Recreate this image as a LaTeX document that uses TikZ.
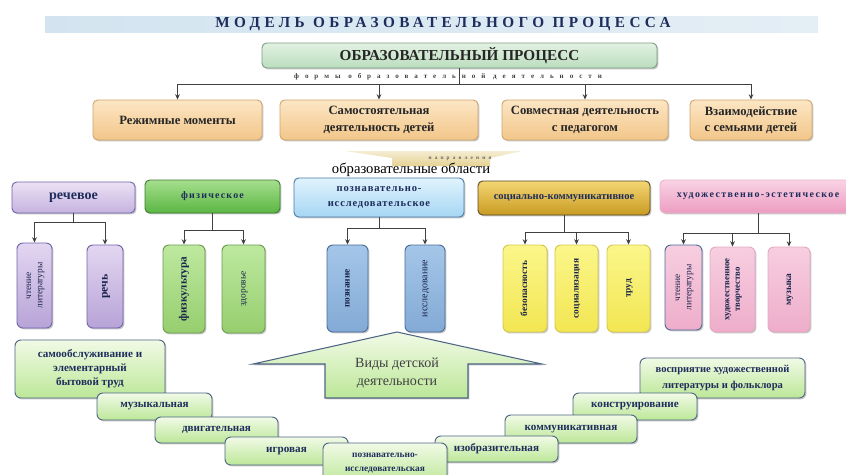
\documentclass[tikz,border=0pt]{standalone}
\usepackage{fontspec}
\setmainfont{Liberation Serif}
\usetikzlibrary{arrows.meta,shadows}
\definecolor{navy}{HTML}{1F2D5C}
\definecolor{txtdark}{HTML}{262626}
\definecolor{conn}{HTML}{404040}
\definecolor{bandL}{HTML}{D3E4F0}
\definecolor{bandR}{HTML}{E4EEF5}
\definecolor{mainT}{HTML}{E2F2E2}
\definecolor{mainB}{HTML}{BBDDBE}
\definecolor{mainD}{HTML}{7E9C84}
\definecolor{formT}{HTML}{FCE6C4}
\definecolor{formBt}{HTML}{F2C689}
\definecolor{formD}{HTML}{CFA470}
\definecolor{purT}{HTML}{EBE1F4}
\definecolor{purB}{HTML}{C6B2DF}
\definecolor{purD}{HTML}{6E65A8}
\definecolor{grnT}{HTML}{A6DF8E}
\definecolor{grnB}{HTML}{5AB642}
\definecolor{grnD}{HTML}{3F7A32}
\definecolor{bluT}{HTML}{E0F3FD}
\definecolor{bluB}{HTML}{A6D6F3}
\definecolor{bluD}{HTML}{4A78A8}
\definecolor{golT}{HTML}{F3D673}
\definecolor{golB}{HTML}{C99B22}
\definecolor{golD}{HTML}{5A4A22}
\definecolor{pnkT}{HTML}{FAD3E4}
\definecolor{pnkB}{HTML}{EC9CC1}
\definecolor{pnkD}{HTML}{E6B4CA}
\definecolor{cpurT}{HTML}{E3D6F1}
\definecolor{cpurB}{HTML}{B7A3D7}
\definecolor{cgrnT}{HTML}{BDE99F}
\definecolor{cgrnB}{HTML}{96CE6E}
\definecolor{cgrnD}{HTML}{6C9A52}
\definecolor{cbluT}{HTML}{A4C6E8}
\definecolor{cbluB}{HTML}{83AAD6}
\definecolor{cbluD}{HTML}{4A6A98}
\definecolor{cyelT}{HTML}{FBF68A}
\definecolor{cyelB}{HTML}{F2E652}
\definecolor{cyelD}{HTML}{D6C74E}
\definecolor{cpnkT}{HTML}{F7CEE0}
\definecolor{cpnkB}{HTML}{EEADCA}
\definecolor{cpnkD}{HTML}{E2AAC2}
\definecolor{stT}{HTML}{F1FAE6}
\definecolor{stB}{HTML}{BCE798}
\definecolor{stD}{HTML}{4F6585}
\definecolor{ribT}{HTML}{F5EDD2}
\definecolor{ribB}{HTML}{E6D293}
\tikzset{
  rect/.style n args={4}{at={({(#1+#3)/2},{(#2+#4)/2})},
    minimum width={(#3-#1)*0.03cm}, minimum height={(#4-#2)*0.03cm}},
  shd/.style={drop shadow={shadow xshift=1.2pt,shadow yshift=-1.2pt,opacity=0.22,fill=black}},
  bx/.style={rounded corners=4pt, line width=0.8pt, inner sep=0pt, align=center, shd},
  mainbox/.style={bx, draw=mainD, top color=mainT, bottom color=mainB, text=txtdark,
    font=\bfseries\fontsize{13}{15}\selectfont},
  formbox/.style={bx, draw=formD, top color=formT, bottom color=formBt, text=txtdark,
    font=\bfseries\fontsize{10.8}{14}\selectfont},
  areabox/.style={bx, text=navy, font=\bfseries\fontsize{9}{11}\selectfont},
  childbox/.style={bx, rounded corners=5pt, text=navy!80!black, font=\bfseries\fontsize{8}{9.5}\selectfont},
  stairbox/.style={bx, rounded corners=5pt, draw=stD, top color=stT, bottom color=stB, text=navy,
    font=\bfseries\fontsize{9.5}{12}\selectfont},
  con/.style={draw=conn, line width=0.8pt},
  arr/.style={con, -{Stealth[length=4.5pt,width=4pt]}},
}
\newcommand{\vtext}[1]{\rotatebox{90}{\begin{tabular}{@{}c@{}}#1\end{tabular}}}
\begin{document}
\begin{tikzpicture}[x=0.03cm,y=-0.03cm]
\useasboundingbox (0,0) rectangle (846,474);
\fill[white] (0,0) rectangle (846,474);

% title band
\path[left color=bandL, right color=bandR] (45,16) rectangle (818,32);
\node[inner sep=0pt, text=navy, font=\bfseries\fontsize{13}{15}\selectfont\addfontfeatures{LetterSpace=29}] (title)
  at (443,24.5) {МОДЕЛЬ ОБРАЗОВАТЕЛЬНОГО ПРОЦЕССА};

% main process
\node[mainbox, rect={262}{43}{657}{68}] (proc) {ОБРАЗОВАТЕЛЬНЫЙ ПРОЦЕСС};
\node[text=black!75, font=\bfseries\fontsize{6}{7}\selectfont\addfontfeatures{LetterSpace=85}] (forms)
  at (448,77) {формы образовательной деятельности};

% forms
\node[formbox, rect={93}{100}{262}{140}] (f1) {Режимные моменты};
\node[formbox, rect={280}{100}{478}{140}] (f2) {Самостоятельная\\деятельность детей};
\node[formbox, rect={502}{100}{668}{140}] (f3) {Совместная деятельность\\с педагогом};
\node[formbox, rect={690}{100}{812}{140}] (f4) {Взаимодействие\\с семьями детей};

\coordinate (bus) at (proc.south |- 0,84);
\draw[con] (proc.south) -- (bus);
\foreach \f in {f1,f2,f3,f4}{\draw[arr] (bus) -| (\f.north);}

% directions ribbon
\path[top color=ribT, bottom color=ribB] (345,151) -- (522,151) -- (490,158) -- (490,166)
  -- (392,166) -- (392,158) -- cycle;
\node[text=black!60, font=\bfseries\fontsize{4.5}{5}\selectfont\addfontfeatures{LetterSpace=60}] (napr)
  at (460,159) {направления};
\node[text=black, font=\fontsize{12.5}{14}\selectfont] (obl) at (411,170) {образовательные области};

% areas
\node[areabox, draw=purD, top color=purT, bottom color=purB, rect={12}{182}{135}{213},
  font=\bfseries\fontsize{12}{14}\selectfont] (a1) {речевое};
\node[areabox, draw=grnD, top color=grnT, bottom color=grnB, rect={145}{180}{280}{213},
  font=\bfseries\fontsize{8.5}{10}\selectfont\addfontfeatures{LetterSpace=12}] (a2) {физическое};
\node[areabox, draw=bluD, top color=bluT, bottom color=bluB, rect={294}{178}{464}{217},
  font=\bfseries\fontsize{9}{13}\selectfont\addfontfeatures{LetterSpace=8}] (a3) {познавательно-\\исследовательское};
\node[areabox, draw=golD, top color=golT, bottom color=golB, rect={478}{181}{650}{215},
  font=\bfseries\fontsize{9}{11}\selectfont] (a4) {социально-коммуникативное};
\node[areabox, draw=pnkD, top color=pnkT, bottom color=pnkB, rect={660}{180}{856}{213},
  font=\bfseries\fontsize{8.5}{11}\selectfont\addfontfeatures{LetterSpace=14}] (a5) {художественно-эстетическое};

% children
\node[childbox, draw=purD, top color=cpurT, bottom color=cpurB, rect={17}{243}{52}{328},
  font=\fontsize{8}{9.5}\selectfont] (c11) {\vtext{чтение\\литературы}};
\node[childbox, draw=purD, top color=cpurT, bottom color=cpurB, rect={87}{245}{123}{328},
  font=\bfseries\fontsize{10}{11}\selectfont] (c12) {\vtext{речь}};
\node[childbox, draw=cgrnD, top color=cgrnT, bottom color=cgrnB, rect={163}{245}{205}{333},
  font=\bfseries\fontsize{9.5}{11}\selectfont] (c21) {\vtext{физкультура}};
\node[childbox, draw=cgrnD, top color=cgrnT, bottom color=cgrnB, rect={222}{245}{265}{333},
  font=\fontsize{8}{9.5}\selectfont] (c22) {\vtext{здоровье}};
\node[childbox, draw=cbluD, top color=cbluT, bottom color=cbluB, rect={327}{245}{368}{332}] (c31) {\vtext{познание}};
\node[childbox, draw=cbluD, top color=cbluT, bottom color=cbluB, rect={405}{245}{445}{332},
  font=\fontsize{8.5}{10}\selectfont] (c32) {\vtext{исследование}};
\node[childbox, draw=cyelD, top color=cyelT, bottom color=cyelB, rect={503}{245}{547}{332}] (c41) {\vtext{безопасность}};
\node[childbox, draw=cyelD, top color=cyelT, bottom color=cyelB, rect={555}{245}{598}{332}] (c42) {\vtext{социализация}};
\node[childbox, draw=cyelD, top color=cyelT, bottom color=cyelB, rect={607}{245}{650}{332}] (c43) {\vtext{труд}};
\node[childbox, draw=cbluD, top color=cpnkT, bottom color=cpnkB, rect={665}{245}{702}{330},
  font=\fontsize{8}{9.5}\selectfont] (c51) {\vtext{чтение\\литературы}};
\node[childbox, draw=cpnkD, top color=cpnkT, bottom color=cpnkB, rect={710}{247}{755}{332},
  font=\bfseries\fontsize{7.5}{9}\selectfont] (c52) {\vtext{художественное\\творчество}};
\node[childbox, draw=cpnkD, top color=cpnkT, bottom color=cpnkB, rect={768}{247}{810}{332}] (c53) {\vtext{музыка}};

% tree connectors
\coordinate (j1) at (a1.south |- 0,222);
\coordinate (j2) at (a2.south |- 0,230);
\coordinate (j3) at (a3.south |- 0,228);
\coordinate (j4) at (a4.south |- 0,232);
\coordinate (j5) at (a5.south |- 0,233);
\draw[con] (a1.south) -- (j1);
\draw[con] (a2.south) -- (j2);
\draw[con] (a3.south) -- (j3);
\draw[con] (a4.south) -- (j4);
\draw[con] (a5.south) -- (j5);
\draw[arr] (j1) -| (c11.north); \draw[arr] (j1) -| (c12.north);
\draw[arr] (j2) -| (c21.north); \draw[arr] (j2) -| (c22.north);
\draw[arr] (j3) -| (c31.north); \draw[arr] (j3) -| (c32.north);
\draw[arr] (j4) -| (c41.north); \draw[arr] (j4) -| (c42.north); \draw[arr] (j4) -| (c43.north);
\draw[arr] (j5) -| (c51.north); \draw[arr] (j5) -| (c52.north); \draw[arr] (j5) -| (c53.north);

% big arrow
\draw[line width=0.9pt, draw=stD, top color=stT, bottom color=stB, shd]
  (397,332) -- (542,364) -- (468,364) -- (468,398) -- (325,398) -- (325,364) -- (253,364) -- cycle;
\node[align=center, text=black!75, font=\fontsize{12}{16}\selectfont] (vidy) at (397,373)
  {Виды детской\\деятельности};

% staircase
\node[stairbox, rect={15}{340}{165}{398}] (s1) {самообслуживание и\\элементарный\\бытовой труд};
\node[stairbox, rect={97}{393}{212}{420}] (s2) {музыкальная};
\node[stairbox, rect={155}{417}{278}{443}] (s3) {двигательная};
\node[stairbox, rect={225}{437}{348}{465}] (s4) {игровая};
\node[stairbox, rect={640}{358}{805}{398}, font=\bfseries\fontsize{9}{13}\selectfont] (s9) {восприятие художественной\\литературы и фольклора};
\node[stairbox, rect={573}{393}{697}{420}] (s8) {конструирование};
\node[stairbox, rect={505}{415}{637}{443}] (s7) {коммуникативная};
\node[stairbox, rect={435}{436}{558}{462}] (s6) {изобразительная};
\node[stairbox, rect={323}{443}{447}{484}, font=\bfseries\fontsize{8}{12}\selectfont] (s5) {познавательно-\\исследовательская};
\end{tikzpicture}
\end{document}
